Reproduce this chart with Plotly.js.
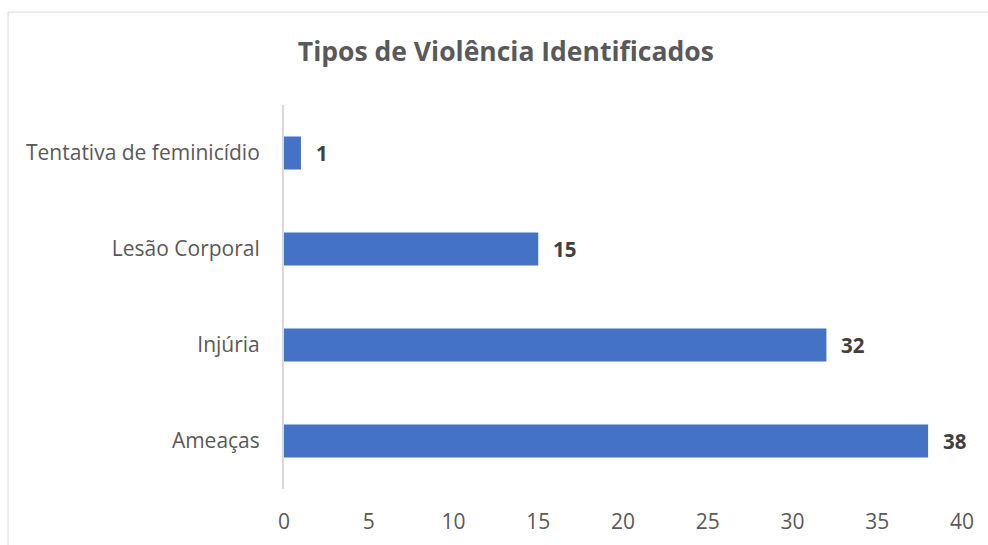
<!DOCTYPE html>
<html>
<head>
<meta charset="utf-8">
<script src="https://cdn.plot.ly/plotly-3.0.1.min.js"></script>
<style>
  body { margin: 0; background: #fff; }
  #graph { width: 988px; height: 545px; }
</style>
</head>
<body>
<div id="graph"></div>
<script>
// tipos de violencia, de baixo para cima
var categorias = ['Ameaças', 'Injúria', 'Lesão Corporal', 'Tentativa de feminicídio'];
var valores = [38, 32, 15, 1];
var ticksX = [0, 5, 10, 15, 20, 25, 30, 35, 40];

var fonte = '"Open Sans", "DejaVu Sans", sans-serif';

var trace1 = {
  type: 'bar',
  orientation: 'h',
  x: valores,
  y: categorias,
  marker: { color: '#4472C4' },
  hoverinfo: 'x+y'
};

// rotulos de dados, fora da barra
var rotulos = [];
for (var i = 0; i < valores.length; i++) {
  rotulos.push({
    x: valores[i],
    y: categorias[i],
    text: '<b>' + valores[i] + '</b>',
    showarrow: false,
    xanchor: 'left',
    xshift: 13,
    font: { family: fonte, size: 20.5, color: '#404040' }
  });
}

var layout = {
  width: 988,
  height: 545,
  margin: { l: 284, r: 26, t: 105, b: 56 },
  paper_bgcolor: '#ffffff',
  plot_bgcolor: '#ffffff',
  showlegend: false,
  bargap: 0.656,
  title: {
    text: '<b>Tipos de Violência Identificados</b>',
    font: { family: fonte, size: 26.5, color: '#595959' },
    xref: 'container',
    yref: 'container',
    x: 0.512,
    y: 0.905,
    xanchor: 'center',
    yanchor: 'middle'
  },
  xaxis: {
    range: [0, 40],
    tickvals: ticksX,
    ticktext: ticksX.map(String),
    showgrid: false,
    zeroline: false,
    showline: false,
    ticks: 'outside',
    ticklen: 14,
    tickcolor: 'rgba(0,0,0,0)',
    tickfont: { family: fonte, size: 21, color: '#595959' },
    fixedrange: true
  },
  yaxis: {
    type: 'category',
    categoryorder: 'array',
    categoryarray: categorias,
    showgrid: false,
    zeroline: false,
    showline: true,
    linecolor: '#d9d9d9',
    linewidth: 2,
    ticks: 'outside',
    ticklen: 18,
    tickcolor: 'rgba(0,0,0,0)',
    tickfont: { family: fonte, size: 21, color: '#595959' },
    fixedrange: true
  },
  annotations: rotulos,
  shapes: [{
    type: 'rect',
    xref: 'paper',
    yref: 'paper',
    x0: -0.407,
    x1: 1.5,
    y0: -0.5,
    y1: 1.242,
    line: { color: '#d9d9d9', width: 1 },
    fillcolor: 'rgba(0,0,0,0)'
  }]
};

Plotly.newPlot('graph', [trace1], layout, { displayModeBar: false, staticPlot: true });
</script>
</body>
</html>
